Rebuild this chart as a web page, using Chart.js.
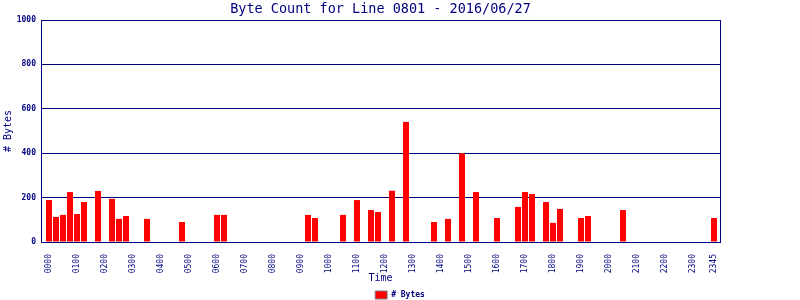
<!DOCTYPE html>
<html>
<head>
<meta charset="utf-8">
<title>Byte Count for Line 0801</title>
<script src="https://cdn.jsdelivr.net/npm/chart.js@4/dist/chart.umd.min.js"></script>
<style>
	html, body { margin: 0; padding: 0; background: #fff; }
	#wrap { width: 800px; height: 300px; }
</style>
</head>
<body>
<div id="wrap"><canvas id="chart" width="800" height="300"></canvas></div>
<script>
( function () {
	'use strict';

	// 15-minute slots, 0000 .. 2345
	var times = [
		'0000', '0015', '0030', '0045', '0100', '0115', '0130', '0145',
		'0200', '0215', '0230', '0245', '0300', '0315', '0330', '0345',
		'0400', '0415', '0430', '0445', '0500', '0515', '0530', '0545',
		'0600', '0615', '0630', '0645', '0700', '0715', '0730', '0745',
		'0800', '0815', '0830', '0845', '0900', '0915', '0930', '0945',
		'1000', '1015', '1030', '1045', '1100', '1115', '1130', '1145',
		'1200', '1215', '1230', '1245', '1300', '1315', '1330', '1345',
		'1400', '1415', '1430', '1445', '1500', '1515', '1530', '1545',
		'1600', '1615', '1630', '1645', '1700', '1715', '1730', '1745',
		'1800', '1815', '1830', '1845', '1900', '1915', '1930', '1945',
		'2000', '2015', '2030', '2045', '2100', '2115', '2130', '2145',
		'2200', '2215', '2230', '2245', '2300', '2315', '2330', '2345',
	];

	// null = no traffic in that slot
	var bytes = [
		189, 113, 122, 225, 126, 180, null, 230,
		null, 194, 104, 117, null, null, 104, null,
		null, null, null, 90, null, null, null, null,
		122, 122, null, null, null, null, null, null,
		null, null, null, null, null, 122, 108, null,
		null, null, 122, null, 189, null, 144, 135,
		null, 231, null, 541, null, null, null, 90,
		null, 104, null, 400, null, 225, null, null,
		108, null, null, 158, 225, 216, null, 180,
		86, 149, null, null, 108, 117, null, null,
		null, null, 144, null, null, null, null, null,
		null, null, null, null, null, null, null, 108,
	];

	// slot indexes that get a time label (every hour, plus the last slot)
	var xTickSlots = [
		0, 4, 8, 12, 16, 20, 24, 28, 32, 36, 40, 44,
		48, 52, 56, 60, 64, 68, 72, 76, 80, 84, 88, 92, 95,
	];

	var yTicks = [ 0, 200, 400, 600, 800, 1000 ];

	var NAVY = '#000080';
	var MONO = '"DejaVu Sans Mono", monospace';

	var points = bytes.map( function ( v, i ) {
		return { x: i, y: v };
	} );

	new Chart( document.getElementById( 'chart' ), {
		type: 'bar',
		data: {
			datasets: [ {
				label:           '# Bytes',
				data:            points,
				backgroundColor: '#ff0000',
				borderWidth:     0,
				barPercentage:   0.85,
				categoryPercentage: 1,
			} ],
		},
		options: {
			responsive: false,
			animation:  false,
			layout:     { padding: 0 },
			plugins: {
				title: {
					display:  true,
					fullSize: false,
					text:     'Byte Count for Line 0801 - 2016/06/27',
					color:    NAVY,
					font:     { family: MONO, size: 13.5, weight: 'normal', lineHeight: '16px' },
					padding:  { top: 1, bottom: 3 },
				},
				legend: {
					position:  'bottom',
					maxHeight: 14,
					labels: {
						color:     NAVY,
						font:      { family: MONO, size: 8, weight: 'bold' },
						boxWidth:  12,
						boxHeight: 8,
						padding:   5,
						generateLabels: function () {
							return [ {
								text:        '# Bytes',
								fillStyle:   '#ff0000',
								strokeStyle: '#808080',
								lineWidth:   1,
								fontColor:   NAVY,
								datasetIndex: 0,
							} ];
						},
					},
				},
				tooltip: { enabled: false },
			},
			scales: {
				x: {
					type:   'linear',
					offset: false,
					min:    -8 / 7,
					max:    95 + 6 / 7,
					afterBuildTicks: function ( scale ) {
						scale.ticks = xTickSlots.map( function ( v ) { return { value: v }; } );
					},
					grid:   { display: false },
					border: { color: NAVY, width: 1 },
					ticks: {
						color:       NAVY,
						font:        { family: MONO, size: 8 },
						autoSkip:    false,
						minRotation: 90,
						maxRotation: 90,
						padding:     4,
						callback: function ( v ) {
							return times[ v ];
						},
					},
					title: {
						display: true,
						text:    'Time',
						color:   NAVY,
						font:    { family: MONO, size: 10, lineHeight: '12px' },
						padding: { top: 0, bottom: 2 },
					},
					afterFit: function ( scale ) {
						scale.height = 44;
					},
				},
				y: {
					position: 'left',
					min: 0,
					max: 1000,
					afterBuildTicks: function ( scale ) {
						scale.ticks = yTicks.map( function ( v ) { return { value: v }; } );
					},
					grid:   { color: NAVY, lineWidth: 1, drawTicks: false },
					border: { color: NAVY, width: 1 },
					ticks: {
						color:   NAVY,
						font:    { family: MONO, size: 8, weight: 'bold' },
						padding: 5,
						callback: function ( v ) {
							return String( v );
						},
					},
					title: {
						display: true,
						text:    '# Bytes',
						color:   NAVY,
						font:    { family: MONO, size: 10, lineHeight: '12px' },
						padding: { top: 2, bottom: 0 },
					},
					afterFit: function ( scale ) {
						scale.width = 41;
					},
				},
				yRight: {
					position: 'right',
					min: 0,
					max: 1000,
					grid:   { display: false, drawTicks: false },
					border: { color: NAVY, width: 1 },
					ticks:  { display: false },
					afterFit: function ( scale ) {
						scale.width = 80;
					},
				},
			},
		},
	} );
} )();
</script>
</body>
</html>
